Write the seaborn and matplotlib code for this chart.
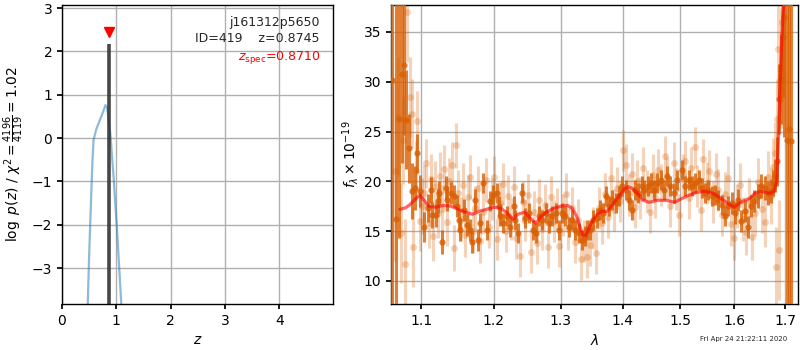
import numpy as np
import pandas as pd
import matplotlib
matplotlib.use("Agg")
import matplotlib.pyplot as plt
import seaborn as sns
from matplotlib.ticker import FixedLocator, FixedFormatter, NullLocator

# ---------------- data ----------------
# left panel: log p(z)
pz_z = [0.47, 0.50, 0.53, 0.56, 0.58, 0.63, 0.70, 0.77, 0.80, 0.83, 0.86, 0.89,
        0.92, 0.95, 0.98, 1.01, 1.04, 1.07, 1.10]
pz_logp = [-4.0, -2.7, -1.6, -0.55, -0.05, 0.2, 0.42, 0.65, 0.76, 0.70, 0.40, 0.10,
           -0.4, -0.9, -1.5, -2.05, -2.7, -3.35, -4.0]
z_best = 0.8745
z_best_top = 2.17
z_spec = 0.8710
z_spec_marker_y = 2.45
xticks_left = [0, 1, 2, 3, 4]
yticks_left = [-3, -2, -1, 0, 1, 2, 3]

# right panel: spectrum, beam 1 (dark)
dark_wave = [1.063, 1.067, 1.071, 1.075, 1.078, 1.081, 1.084, 1.088, 1.092, 1.095,
             1.099, 1.104, 1.109, 1.113, 1.115, 1.120, 1.122, 1.124, 1.128, 1.133,
             1.135, 1.140, 1.144, 1.149, 1.151, 1.153, 1.158, 1.162, 1.167, 1.169,
             1.174, 1.178, 1.181, 1.185, 1.190, 1.195, 1.199, 1.204, 1.207, 1.209,
             1.214, 1.219, 1.224, 1.229, 1.231, 1.236, 1.241, 1.246, 1.252, 1.257,
             1.262, 1.267, 1.272, 1.277, 1.282, 1.287, 1.292, 1.297, 1.302, 1.307,
             1.313, 1.318, 1.323, 1.328, 1.333, 1.338, 1.341, 1.347, 1.352, 1.357,
             1.362, 1.367, 1.373, 1.378, 1.383, 1.389, 1.394, 1.399, 1.405, 1.410,
             1.416, 1.421, 1.426, 1.432, 1.437, 1.443, 1.448, 1.454, 1.459, 1.465,
             1.471, 1.476, 1.482, 1.488, 1.494, 1.503, 1.509, 1.515, 1.521, 1.527,
             1.533, 1.539, 1.545, 1.551, 1.557, 1.564, 1.570, 1.576, 1.582, 1.588,
             1.595, 1.601, 1.607, 1.613, 1.620, 1.626, 1.632, 1.639, 1.646, 1.652,
             1.659, 1.666, 1.671, 1.676, 1.680, 1.684, 1.687, 1.691, 1.695, 1.699,
             1.704, 1.708, 1.713]
dark_flux = [30.2, 16.2, 26.3, 30.8, 31.7, 26.2, 23.3, 19.0, 19.3, 22.8,
             19.0, 15.4, 17.3, 19.1, 16.6, 16.6, 18.0, 18.8, 13.9, 19.3,
             18.1, 18.8, 18.5, 17.5, 16.1, 15.1, 17.1, 15.6, 15.1, 13.9,
             18.1, 14.1, 15.8, 19.8, 15.1, 18.0, 18.6, 18.8, 17.5, 16.5,
             15.8, 16.5, 15.4, 17.5, 16.1, 14.8, 18.8, 16.3, 16.8, 15.1,
             14.8, 16.5, 16.1, 16.8, 15.8, 16.5, 16.8, 15.1, 16.8, 16.5,
             15.4, 16.1, 15.1, 14.8, 14.1, 14.5, 15.1, 15.1, 16.1, 16.3,
             17.1, 16.8, 18.5, 17.5, 18.1, 17.8, 18.5, 19.5, 19.1, 18.1,
             17.1, 19.1, 18.8, 19.5, 19.1, 19.5, 19.8, 19.1, 19.8, 20.1,
             19.1, 20.5, 19.5, 18.8, 20.1, 21.1, 19.5, 20.1, 19.5, 19.8,
             20.1, 19.3, 18.8, 19.1, 18.5, 18.6, 18.1, 17.6, 16.5, 17.5,
             17.8, 16.8, 18.1, 16.0, 17.0, 15.4, 17.5, 18.0, 18.5, 19.5,
             19.3, 18.8, 19.0, 19.8, 20.5, 22.0, 28.3, 30.3, 34.5, 36.5,
             24.2, 25.3, 24.0]
dark_err = [40, 40, 12, 9, 7, 5, 3.5, 2.8, 2.2, 2.0,
            1.6, 1.5, 1.4, 1.3, 1.3, 1.2, 1.2, 1.2, 1.2, 1.2,
            1.1, 1.1, 1.1, 1.1, 1.1, 1.1, 1.1, 1.1, 1.1, 1.1,
            1.1, 1.1, 1.0, 1.0, 1.0, 1.0, 1.0, 1.0, 1.0, 1.0,
            1.0, 1.0, 1.0, 1.0, 1.0, 1.0, 1.0, 1.0, 1.0, 1.0,
            1.0, 1.0, 1.0, 1.0, 1.0, 1.0, 1.0, 1.0, 1.0, 1.0,
            1.0, 1.0, 1.0, 1.0, 1.0, 1.0, 1.0, 1.0, 1.0, 1.0,
            1.0, 1.0, 1.0, 1.0, 1.0, 1.0, 1.0, 1.0, 1.0, 1.0,
            1.0, 1.0, 1.0, 1.0, 1.0, 1.0, 1.0, 1.0, 1.0, 1.0,
            1.0, 1.0, 1.0, 1.0, 1.0, 1.0, 1.0, 1.0, 1.0, 1.0,
            1.0, 1.0, 1.0, 1.0, 1.0, 1.0, 1.0, 1.0, 1.0, 1.0,
            1.1, 1.1, 1.1, 1.1, 1.1, 1.1, 1.1, 1.1, 1.2, 1.2,
            1.2, 1.2, 1.2, 1.3, 1.6, 2.5, 3.5, 4.5, 6, 12,
            30, 40, 40]

# right panel: spectrum, beam 2 (light)
light_wave = [1.066, 1.070, 1.074, 1.077, 1.079, 1.082, 1.085, 1.088, 1.090, 1.093,
              1.095, 1.098, 1.101, 1.104, 1.107, 1.110, 1.113, 1.116, 1.119, 1.122,
              1.125, 1.128, 1.131, 1.135, 1.138, 1.141, 1.144, 1.147, 1.150, 1.154,
              1.157, 1.160, 1.164, 1.167, 1.171, 1.174, 1.178, 1.181, 1.185, 1.189,
              1.193, 1.197, 1.201, 1.205, 1.209, 1.213, 1.217, 1.221, 1.225, 1.229,
              1.233, 1.238, 1.242, 1.246, 1.250, 1.254, 1.259, 1.263, 1.267, 1.272,
              1.276, 1.280, 1.285, 1.289, 1.294, 1.298, 1.303, 1.308, 1.312, 1.317,
              1.322, 1.327, 1.332, 1.336, 1.341, 1.346, 1.351, 1.356, 1.361, 1.366,
              1.371, 1.376, 1.381, 1.386, 1.391, 1.396, 1.400, 1.405, 1.410, 1.415,
              1.420, 1.425, 1.430, 1.435, 1.441, 1.446, 1.451, 1.456, 1.461, 1.466,
              1.472, 1.477, 1.482, 1.488, 1.493, 1.498, 1.504, 1.509, 1.515, 1.520,
              1.526, 1.531, 1.537, 1.542, 1.548, 1.553, 1.559, 1.565, 1.570, 1.576,
              1.582, 1.588, 1.593, 1.599, 1.605, 1.611, 1.617, 1.623, 1.629, 1.635,
              1.641, 1.647, 1.653, 1.659, 1.665, 1.671, 1.676, 1.680, 1.682, 1.684,
              1.686, 1.688, 1.691, 1.694]
light_flux = [21.0, 26.5, 14.8, 24.2, 11.7, 37.0, 28.5, 26.8, 13.4, 21.0,
              26.1, 16.0, 17.5, 18.8, 21.8, 15.8, 20.2, 14.5, 19.5, 16.8,
              20.5, 17.2, 21.2, 15.9, 20.0, 21.6, 13.3, 23.6, 18.8, 16.2,
              19.6, 14.6, 18.4, 20.4, 15.0, 17.3, 19.3, 14.0, 16.9, 20.1,
              15.4, 18.2, 20.4, 14.2, 17.8, 19.7, 15.0, 18.5, 16.2, 19.4,
              14.3, 12.5, 17.9, 16.1, 18.6, 12.9, 16.9, 13.8, 18.1, 15.2,
              17.6, 13.4, 18.4, 16.0, 17.2, 13.5, 16.6, 18.7, 15.2, 17.3,
              13.9, 16.1, 12.2, 14.0, 12.4, 13.6, 15.3, 12.8, 17.3, 15.8,
              18.7, 16.4, 20.3, 17.1, 19.3, 18.0, 23.1, 21.6, 18.6, 20.7,
              17.4, 20.0, 18.3, 21.3, 19.0, 16.9, 20.6, 18.4, 21.1, 19.6,
              22.5, 20.3, 17.5, 21.8, 19.2, 16.6, 20.6, 22.0, 18.3, 21.3,
              23.4, 19.5, 17.1, 22.2, 19.8, 21.0, 17.9, 20.7, 19.1, 16.6,
              18.7, 20.3, 15.7, 14.3, 17.5, 19.6, 16.2, 14.9, 18.0, 14.4,
              16.8, 19.9, 17.2, 15.9, 20.4, 18.5, 21.4, 22.8, 11.4, 26.3,
              33.3, 13.1, 31.4, 36.0]
light_err = [9, 6, 5, 4.5, 4.5, 5, 4, 3.5, 4, 3,
             3, 3, 2.8, 2.8, 2.5, 2.5, 2.5, 2.5, 2.5, 2.5,
             2.4, 2.4, 2.4, 2.4, 2.3, 2.3, 2.3, 2.3, 2.3, 2.2,
             2.2, 2.2, 2.2, 2.2, 2.2, 2.2, 2.2, 2.2, 2.2, 2.2,
             2.1, 2.1, 2.1, 2.1, 2.1, 2.1, 2.1, 2.1, 2.1, 2.1,
             2.1, 2.1, 2.1, 2.1, 2.1, 2.1, 2.1, 2.1, 2.1, 2.1,
             2.1, 2.1, 2.1, 2.1, 2.1, 2.1, 2.1, 2.1, 2.1, 2.1,
             2.1, 2.1, 2.1, 2.1, 2.1, 2.1, 2.1, 2.1, 2.1, 2.1,
             2.1, 2.1, 2.1, 2.1, 2.1, 2.1, 2.1, 2.1, 2.1, 2.1,
             2.1, 2.1, 2.1, 2.1, 2.1, 2.1, 2.1, 2.1, 2.1, 2.1,
             2.1, 2.1, 2.1, 2.1, 2.1, 2.1, 2.1, 2.1, 2.1, 2.1,
             2.1, 2.1, 2.1, 2.1, 2.1, 2.1, 2.1, 2.1, 2.1, 2.1,
             2.2, 2.2, 2.2, 2.2, 2.2, 2.2, 2.2, 2.3, 2.3, 2.3,
             2.3, 2.4, 2.4, 2.5, 2.6, 2.8, 3.0, 3.2, 4, 4,
             5, 5, 6, 8]

# best-fit model
model_wave = [1.0727, 1.080, 1.086, 1.092, 1.0987, 1.104, 1.110, 1.120, 1.130, 1.140,
              1.150, 1.160, 1.170, 1.180, 1.190, 1.200, 1.210, 1.220, 1.228, 1.235,
              1.245, 1.255, 1.262, 1.270, 1.280, 1.290, 1.300, 1.310, 1.318, 1.325,
              1.331, 1.335, 1.340, 1.346, 1.355, 1.365, 1.375, 1.385, 1.395, 1.402,
              1.409, 1.416, 1.425, 1.435, 1.445, 1.460, 1.475, 1.490, 1.500, 1.515,
              1.530, 1.545, 1.560, 1.575, 1.590, 1.600, 1.610, 1.620, 1.630, 1.640,
              1.650, 1.660, 1.670, 1.678, 1.6834, 1.686, 1.689, 1.692, 1.695, 1.698,
              1.701]
model_flux = [17.2, 17.35, 17.7, 18.2, 18.6, 18.1, 17.5, 17.4, 17.6, 17.5,
              17.2, 16.9, 16.7, 17.0, 17.2, 17.4, 17.3, 16.8, 16.2, 16.7,
              16.9, 16.2, 15.8, 16.5, 17.0, 17.3, 17.5, 17.6, 17.3, 16.5,
              15.3, 14.6, 14.6, 15.5, 16.5, 17.0, 17.0, 17.8, 18.6, 19.2,
              19.47, 19.3, 18.8, 18.1, 17.9, 18.1, 18.1, 17.9, 18.2, 18.6,
              18.9, 19.0, 18.8, 18.3, 17.7, 17.4, 17.8, 18.1, 18.3, 18.8,
              19.0, 18.9, 18.8, 19.0, 20.0, 23.5, 28.0, 32.5, 36.0, 38.5,
              40.0]

xticks_right = [1.1, 1.2, 1.3, 1.4, 1.5, 1.6, 1.7]
yticks_right = [10, 15, 20, 25, 30, 35]

# ---------------- style ----------------
sns.set_theme(context="notebook", style="ticks", rc={
    "axes.grid": True,
    "grid.color": "#b0b0b0",
    "grid.linewidth": 1.0,
    "axes.edgecolor": "black",
    "axes.linewidth": 1.0,
    "font.size": 10,
    "axes.labelsize": 10,
    "xtick.labelsize": 10,
    "ytick.labelsize": 10,
    "xtick.major.size": 3.5,
    "ytick.major.size": 3.5,
    "xtick.color": "black",
    "ytick.color": "black",
    "axes.labelcolor": "black",
})
plt.rcParams["font.family"] = ["DejaVu Sans"]

fig = plt.figure(figsize=(8, 3.5), dpi=100)
ax1 = fig.add_axes([62 / 800, 46 / 350, 271 / 800, 299 / 350])
ax2 = fig.add_axes([391 / 800, 46 / 350, 407 / 800, 299 / 350])

# ---------------- left panel ----------------
ylim1 = (-3.83, 3.07)
pz_df = pd.DataFrame({"z": pz_z, "logp": pz_logp})
sns.lineplot(data=pz_df, x="z", y="logp", ax=ax1, color="#1f77b4", alpha=0.5,
             linewidth=1.6, sort=False, estimator=None)
ax1.plot([z_best, z_best], [ylim1[0], z_best_top], color="#333333", alpha=0.9,
         linewidth=2.6, solid_capstyle="butt")
ax1.plot([z_spec], [z_spec_marker_y], marker="v", color="red", markersize=7,
         linestyle="none")
ax1.set_xlim(0, 4.99)
ax1.set_ylim(*ylim1)
ax1.set_xticks(xticks_left)
ax1.set_yticks(yticks_left)
ax1.set_yticklabels([f"{t:d}".replace("-", "\u2212") for t in yticks_left])
ax1.set_xlabel(r"$z$")
ax1.set_ylabel(r"$\log\ p(z)$ / $\chi^2=\frac{4196}{4119}=1.02$")
ax1.text(0.952, 0.943, "j161312p5650", transform=ax1.transAxes, ha="right",
         va="center", fontsize=9)
ax1.text(0.952, 0.888, "ID=419    z=0.8745", transform=ax1.transAxes, ha="right",
         va="center", fontsize=9)
ax1.text(0.952, 0.825, r"$z_\mathrm{spec}$=0.8710", transform=ax1.transAxes,
         ha="right", va="center", fontsize=9, color="red")
for s in ax1.spines.values():
    s.set_visible(True)

# ---------------- right panel ----------------
orange = "#d95f02"
ax2.errorbar(light_wave, light_flux, yerr=light_err, fmt="o", color=orange,
             alpha=0.27, markersize=5, elinewidth=2.2, capsize=0,
             markeredgewidth=0, zorder=2)
ax2.errorbar(dark_wave, dark_flux, yerr=dark_err, fmt="o", color=orange,
             alpha=0.8, markersize=4.5, elinewidth=2.2, capsize=0,
             markeredgewidth=0, zorder=3)
model_df = pd.DataFrame({"wave": model_wave, "flux": model_flux})
sns.lineplot(data=model_df, x="wave", y="flux", ax=ax2, color="red", alpha=0.6,
             linewidth=2.3, sort=False, estimator=None, zorder=4)
ax2.set_xscale("log")
ax2.set_xlim(1.0612, 1.7267)
ax2.set_ylim(7.69, 37.7)
ax2.xaxis.set_major_locator(FixedLocator(xticks_right))
ax2.xaxis.set_major_formatter(FixedFormatter([f"{t:.1f}" for t in xticks_right]))
ax2.xaxis.set_minor_locator(NullLocator())
ax2.set_yticks(yticks_right)
ax2.set_xlabel(r"$\lambda$")
ax2.set_ylabel(r"$f_\lambda\times10^{-19}$")
ax2.yaxis.labelpad = 2
for s in ax2.spines.values():
    s.set_visible(True)

fig.text(0.984, 0.031, "Fri Apr 24 21:22:11 2020", ha="right", va="center",
         fontsize=5)

fig.savefig("out.png", dpi=100)
